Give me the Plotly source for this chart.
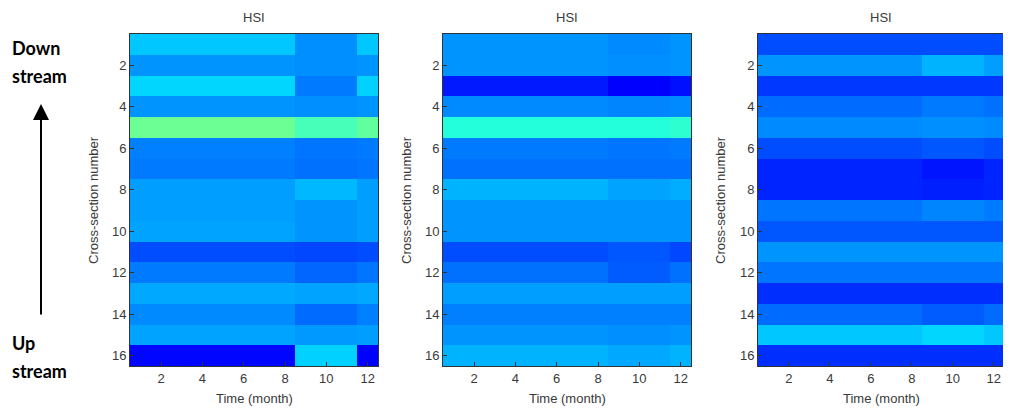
import plotly.graph_objects as go

months = list(range(1, 13))
sections = list(range(1, 17))
# which period each month belongs to (months 1-8, 9-11, 12)
period_of_month = [0, 0, 0, 0, 0, 0, 0, 0, 1, 1, 1, 2]

# HSI per cross-section for each period: [months 1-8, months 9-11, month 12]
hsi_a = [
    [0.32, 0.265, 0.32], [0.27, 0.265, 0.27], [0.335, 0.245, 0.33], [0.27, 0.265, 0.27],
    [0.48, 0.445, 0.47], [0.25, 0.24, 0.245], [0.245, 0.235, 0.24], [0.28, 0.305, 0.28],
    [0.28, 0.27, 0.28], [0.285, 0.27, 0.28], [0.20, 0.195, 0.20], [0.245, 0.225, 0.24],
    [0.29, 0.285, 0.29], [0.26, 0.23, 0.25], [0.285, 0.275, 0.28], [0.13, 0.33, 0.125],
]
hsi_b = [
    [0.27, 0.26, 0.27], [0.27, 0.265, 0.27], [0.15, 0.125, 0.14], [0.26, 0.255, 0.26],
    [0.41, 0.41, 0.42], [0.245, 0.24, 0.245], [0.235, 0.235, 0.235], [0.30, 0.285, 0.295],
    [0.27, 0.27, 0.27], [0.27, 0.27, 0.27], [0.20, 0.21, 0.195], [0.235, 0.215, 0.235],
    [0.28, 0.28, 0.28], [0.25, 0.25, 0.25], [0.27, 0.265, 0.27], [0.30, 0.29, 0.30],
]
hsi_c = [
    [0.20, 0.20, 0.20], [0.27, 0.30, 0.28], [0.18, 0.18, 0.18], [0.23, 0.245, 0.235],
    [0.26, 0.265, 0.26], [0.20, 0.21, 0.20], [0.16, 0.145, 0.16], [0.16, 0.155, 0.16],
    [0.24, 0.255, 0.245], [0.21, 0.21, 0.21], [0.27, 0.27, 0.27], [0.24, 0.24, 0.24],
    [0.17, 0.17, 0.17], [0.23, 0.215, 0.23], [0.32, 0.335, 0.32], [0.17, 0.17, 0.17],
]
panel_titles = ["HSI", "HSI", "HSI"]
x_tick_vals = [2, 4, 6, 8, 10, 12]
y_tick_vals = [2, 4, 6, 8, 10, 12, 14, 16]

jet = [[0.0, "rgb(0,0,128)"], [0.125, "rgb(0,0,255)"], [0.375, "rgb(0,255,255)"],
       [0.625, "rgb(255,255,0)"], [0.875, "rgb(255,0,0)"], [1.0, "rgb(128,0,0)"]]

WIN_W, WIN_H = 1011, 413
OFF = 8  # page body margin
W, H = WIN_W - OFF, WIN_H - OFF


def px(p):
    return (p - OFF) / W


def py(p):
    return 1 - (p - OFF) / H


panels_px = [(130, 378), (443, 691), (758, 1004)]
y_top, y_bot = 34, 366
ylab_px = [93, 406, 720]

fig = go.Figure()
text_col = "#3a3a3a"
lab_font = dict(family="Liberation Sans, Arial", size=13, color=text_col)
for i, (data, (x0, x1)) in enumerate(zip([hsi_a, hsi_b, hsi_c], panels_px)):
    z = [[row[p] for p in period_of_month] for row in data]
    xa = "x" if i == 0 else f"x{i+1}"
    ya = "y" if i == 0 else f"y{i+1}"
    fig.add_trace(go.Heatmap(z=z, x=months, y=sections, colorscale=jet, zmin=0, zmax=1,
                             showscale=False, xaxis=xa, yaxis=ya))
    xk = "xaxis" if i == 0 else f"xaxis{i+1}"
    yk = "yaxis" if i == 0 else f"yaxis{i+1}"
    common = dict(showline=True, linecolor="#333333", linewidth=1, mirror=True,
                  ticks="inside", ticklen=4, tickcolor="#333333", showgrid=False,
                  zeroline=False, tickfont=dict(family="Liberation Sans, Arial", size=13, color=text_col))
    fig.layout[xk] = dict(domain=[px(x0), px(x1)], range=[0.5, 12.5], tickvals=x_tick_vals,
                          anchor=ya, **common)
    fig.layout[yk] = dict(domain=[py(y_bot), py(y_top)], range=[16.5, 0.5],
                          tickvals=y_tick_vals, anchor=xa, **common)
    cx = px((x0 + x1) / 2)
    fig.add_annotation(text=panel_titles[i], x=cx, y=py(17), xref="paper", yref="paper",
                       xanchor="center", yanchor="middle", showarrow=False, font=lab_font)
    fig.add_annotation(text="Time (month)", x=cx, y=py(398), xref="paper", yref="paper",
                       xanchor="center", yanchor="middle", showarrow=False, font=lab_font)
    fig.add_annotation(text="Cross-section number", x=px(ylab_px[i]), y=py(200),
                       xref="paper", yref="paper", xanchor="center", yanchor="middle",
                       textangle=-90, showarrow=False, font=lab_font)

side_font = dict(family="Lato, Open Sans", size=18, color="black")
for txt, ypx in [("<b>Down</b>", 48), ("<b>stream</b>", 76), ("<b>Up</b>", 343), ("<b>stream</b>", 371)]:
    fig.add_annotation(text=txt, x=px(10), y=py(ypx), xref="paper", yref="paper",
                       xanchor="left", yanchor="middle", showarrow=False, font=side_font)
fig.add_annotation(x=px(41), y=py(104), xref="paper", yref="paper", ax=0, ay=212,
                   showarrow=True, arrowhead=2, arrowsize=1.6, arrowwidth=2, arrowcolor="black", text="")

fig.update_layout(width=W, height=H, autosize=False, margin=dict(l=0, r=0, t=0, b=0),
                  paper_bgcolor="white", plot_bgcolor="white")
fig.write_html("out.html")
